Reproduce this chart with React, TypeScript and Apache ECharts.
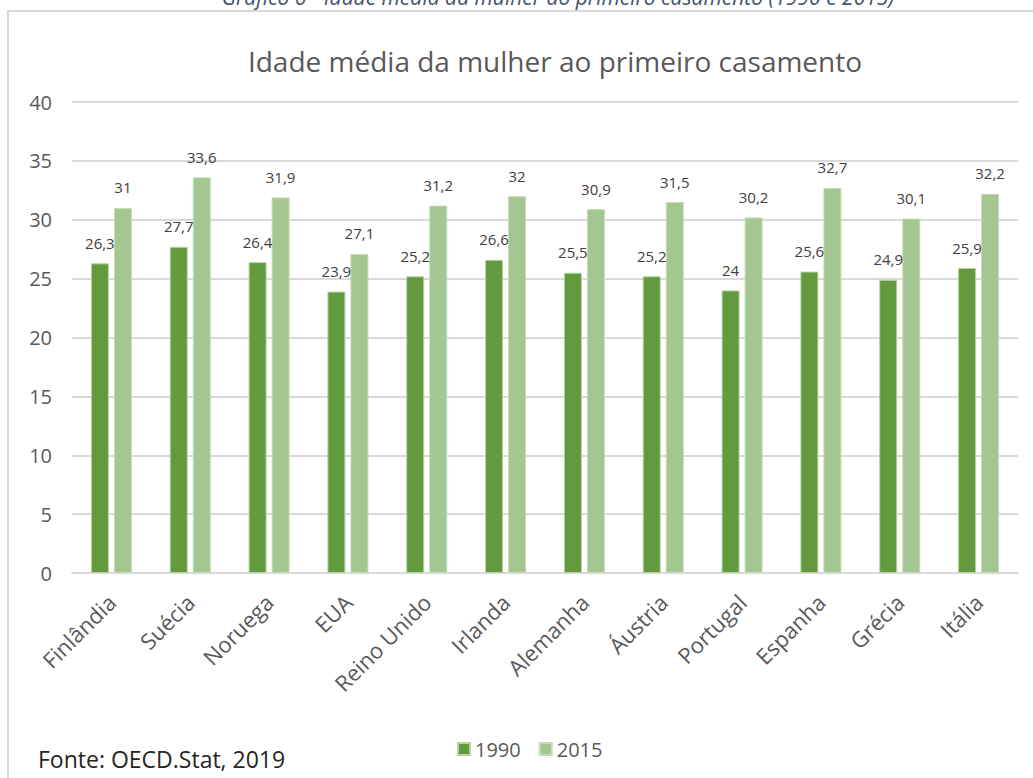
import React, { useEffect, useRef } from "react";
import * as echarts from "echarts";

const categories = ["Finlândia", "Suécia", "Noruega", "EUA", "Reino Unido", "Irlanda", "Alemanha", "Áustria", "Portugal", "Espanha", "Grécia", "Itália"];
const values1990 = [26.3, 27.7, 26.4, 23.9, 25.2, 26.6, 25.5, 25.2, 24, 25.6, 24.9, 25.9];
const values2015 = [31, 33.6, 31.9, 27.1, 31.2, 32, 30.9, 31.5, 30.2, 32.7, 30.1, 32.2];
const seriesNames = ["1990", "2015"];
const chartTitle = "Idade média da mulher ao primeiro casamento";
const captionText = "Gráfico 6 - Idade média da mulher ao primeiro casamento (1990 e 2015)";
const sourceText = "Fonte: OECD.Stat, 2019";

const FONT = "'Open Sans', 'Noto Sans', sans-serif";
const DARK = "#639a3d";
const LIGHT = "#a4c690";

export default function App() {
  const ref = useRef<HTMLDivElement>(null);
  useEffect(() => {
    document.body.style.margin = "0";
    const chart = echarts.init(ref.current!, undefined, { renderer: "svg" });
    const fmt = (p: any) => String(p.value).replace(".", ",");
    chart.setOption({
      animation: false,
      backgroundColor: "#ffffff",
      textStyle: { fontFamily: FONT },
      title: {
        text: chartTitle,
        left: 550,
        top: 42,
        textAlign: "center",
        textStyle: { fontFamily: FONT, fontSize: 28, fontWeight: "normal", color: "#595959" },
      },
      legend: {
        data: seriesNames,
        left: 452,
        top: 734,
        itemWidth: 12,
        itemHeight: 12,
        itemGap: 18,
        icon: "rect",
        textStyle: { fontFamily: FONT, fontSize: 20, color: "#595959" },
      },
      grid: { left: 72, right: 15, top: 102, bottom: 205, containLabel: false },
      xAxis: {
        type: "category",
        data: categories,
        axisLine: { lineStyle: { color: "#d9d9d9", width: 2 } },
        axisTick: { show: false },
        axisLabel: { rotate: 45, fontSize: 22, color: "#595959", fontFamily: FONT, margin: 25, interval: 0 },
      },
      yAxis: {
        type: "value",
        min: 0,
        max: 40,
        interval: 5,
        axisLine: { show: false },
        axisTick: { show: false },
        splitLine: { lineStyle: { color: "#d9d9d9", width: 2 } },
        axisLabel: { fontSize: 20, color: "#595959", fontFamily: FONT, margin: 20 },
      },
      series: [
        {
          name: seriesNames[0],
          type: "bar",
          data: values1990,
          barWidth: 18,
          barGap: "28%",
          itemStyle: { color: DARK, borderColor: "#b5d3a3", borderWidth: 1 },
          label: { show: true, position: "top", distance: 13, formatter: fmt, fontSize: 15, color: "#404040", fontFamily: FONT },
        },
        {
          name: seriesNames[1],
          type: "bar",
          data: values2015,
          barWidth: 18,
          itemStyle: { color: LIGHT, borderColor: "#c6dcb8", borderWidth: 1 },
          label: { show: true, position: "top", distance: 13, formatter: fmt, fontSize: 15, color: "#404040", fontFamily: FONT },
        },
      ],
      graphic: [
        {
          type: "rect",
          shape: { x: 8, y: 11, width: 1100, height: 900 },
          style: { fill: "none", stroke: "#d9d9d9", lineWidth: 2 },
          silent: true,
        },
        {
          type: "text",
          x: 558,
          y: 7,
          style: {
            text: captionText,
            fontFamily: FONT,
            fontStyle: "italic",
            fontSize: 21,
            fill: "#44546a",
            align: "center",
            verticalAlign: "bottom",
          },
        },
        {
          type: "text",
          x: 38,
          y: 759,
          style: {
            text: sourceText,
            fontFamily: FONT,
            fontSize: 23,
            fill: "#262626",
            align: "left",
            verticalAlign: "middle",
          },
        },
      ],
    });
    return () => chart.dispose();
  }, []);
  return <div ref={ref} style={{ position: "fixed", left: 0, top: 0, width: 1033, height: 778 }} />;
}
